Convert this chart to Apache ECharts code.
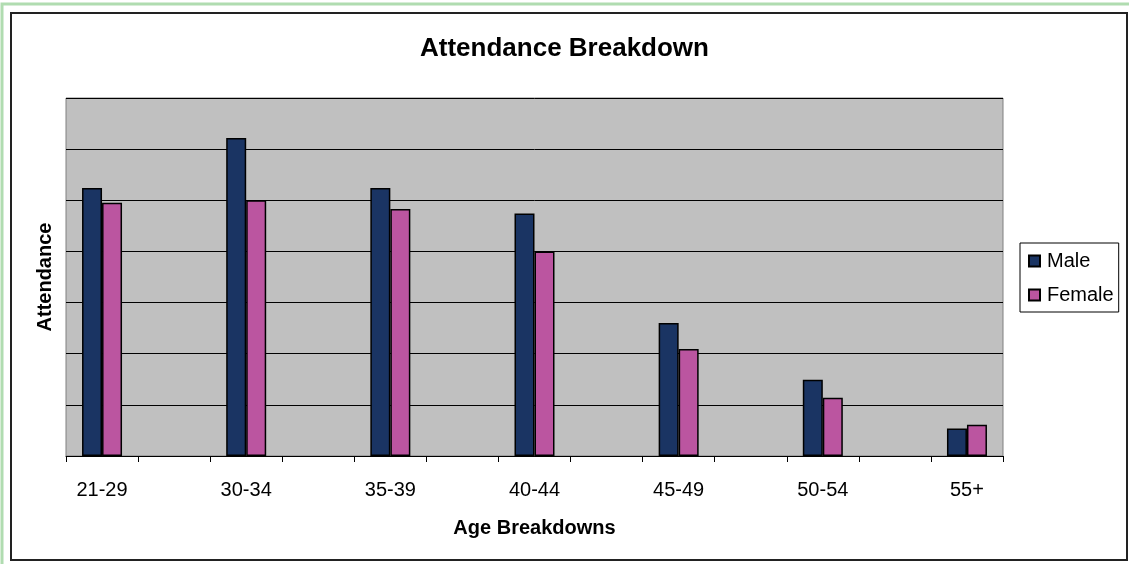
<!DOCTYPE html>
<html>
<head>
<meta charset="utf-8">
<script src="https://cdn.jsdelivr.net/npm/echarts@6/dist/echarts.min.js"></script>
<style>html,body{margin:0;padding:0;background:#fff}#c{width:1129px;height:564px}</style>
</head>
<body>
<div id="c"></div>
<script>
var categories = ['21-29', '30-34', '35-39', '40-44', '45-49', '50-54', '55+'];
var male = [52.4, 62.2, 52.4, 47.4, 26.0, 14.9, 5.4];
var female = [49.5, 50.0, 48.3, 40.0, 20.9, 11.4, 6.1];
var yTicks = [0, 10, 20, 30, 40, 50, 60, 70];

// Insert blank spacer categories between age groups (as in the original)
var axisCats = [], maleData = [], femaleData = [];
categories.forEach(function (c, i) {
  axisCats.push(c); maleData.push(male[i]); femaleData.push(female[i]);
  if (i < categories.length - 1) { axisCats.push(''); maleData.push('-'); femaleData.push('-'); }
});

var FONT = 'Liberation Sans, Arial, sans-serif';
var chart = echarts.init(document.getElementById('c'));
chart.setOption({
  animation: false,
  backgroundColor: '#fff',
  title: {
    text: 'Attendance Breakdown', left: 'center', top: 31,
    textStyle: { fontFamily: FONT, fontSize: 26, fontWeight: 'bold', color: '#000' }
  },
  legend: {
    orient: 'vertical', left: 1020, top: 243,
    padding: [8, 5, 7, 8],
    itemGap: 14, itemWidth: 11, itemHeight: 11,
    borderColor: '#000', borderWidth: 1,
    icon: 'rect',
    textStyle: { fontFamily: FONT, fontSize: 20, color: '#000', padding: [0, 0, 0, 2] },
    data: ['Male', 'Female']
  },
  grid: {
    left: 66, right: 126, top: 98, bottom: 108,
    show: true, backgroundColor: '#c0c0c0', borderColor: '#808080', borderWidth: 1
  },
  xAxis: {
    type: 'category', data: axisCats,
    name: 'Age Breakdowns', nameLocation: 'middle', nameGap: 62,
    nameTextStyle: { fontFamily: FONT, fontSize: 20, fontWeight: 'bold', color: '#000' },
    axisLine: { lineStyle: { color: '#000', width: 1 } },
    axisTick: { show: true, interval: 0, length: 6, lineStyle: { color: '#000' } },
    axisLabel: { interval: 0, margin: 24, fontFamily: FONT, fontSize: 20, color: '#000' },
    splitLine: { show: false }
  },
  yAxis: {
    type: 'value', min: yTicks[0], max: yTicks[yTicks.length - 1], interval: yTicks[1] - yTicks[0],
    name: 'Attendance', nameLocation: 'middle', nameGap: 11, nameRotate: 90,
    nameTextStyle: { fontFamily: FONT, fontSize: 20, fontWeight: 'bold', color: '#000' },
    axisLine: { show: false }, axisTick: { show: false }, axisLabel: { show: false },
    splitLine: { lineStyle: { color: '#000', width: 1 } }
  },
  series: [
    { name: 'Male', type: 'bar', data: maleData, barWidth: 20, barGap: '0%',
      itemStyle: { color: '#1a3463', borderColor: '#000', borderWidth: 1.5 } },
    { name: 'Female', type: 'bar', data: femaleData, barWidth: 20, barGap: '0%',
      itemStyle: { color: '#bb55a0', borderColor: '#000', borderWidth: 1.5 } }
  ],
  graphic: [
    { type: 'rect', shape: { x: 2, y: 4, width: 1140, height: 600 }, style: { fill: 'none', stroke: '#b0dcb0', lineWidth: 3 }, silent: true, z: 100 },
    { type: 'rect', shape: { x: 11, y: 13, width: 1116, height: 547 }, style: { fill: 'none', stroke: '#222', lineWidth: 2 }, silent: true, z: 100 }
  ]
});
</script>
</body>
</html>
